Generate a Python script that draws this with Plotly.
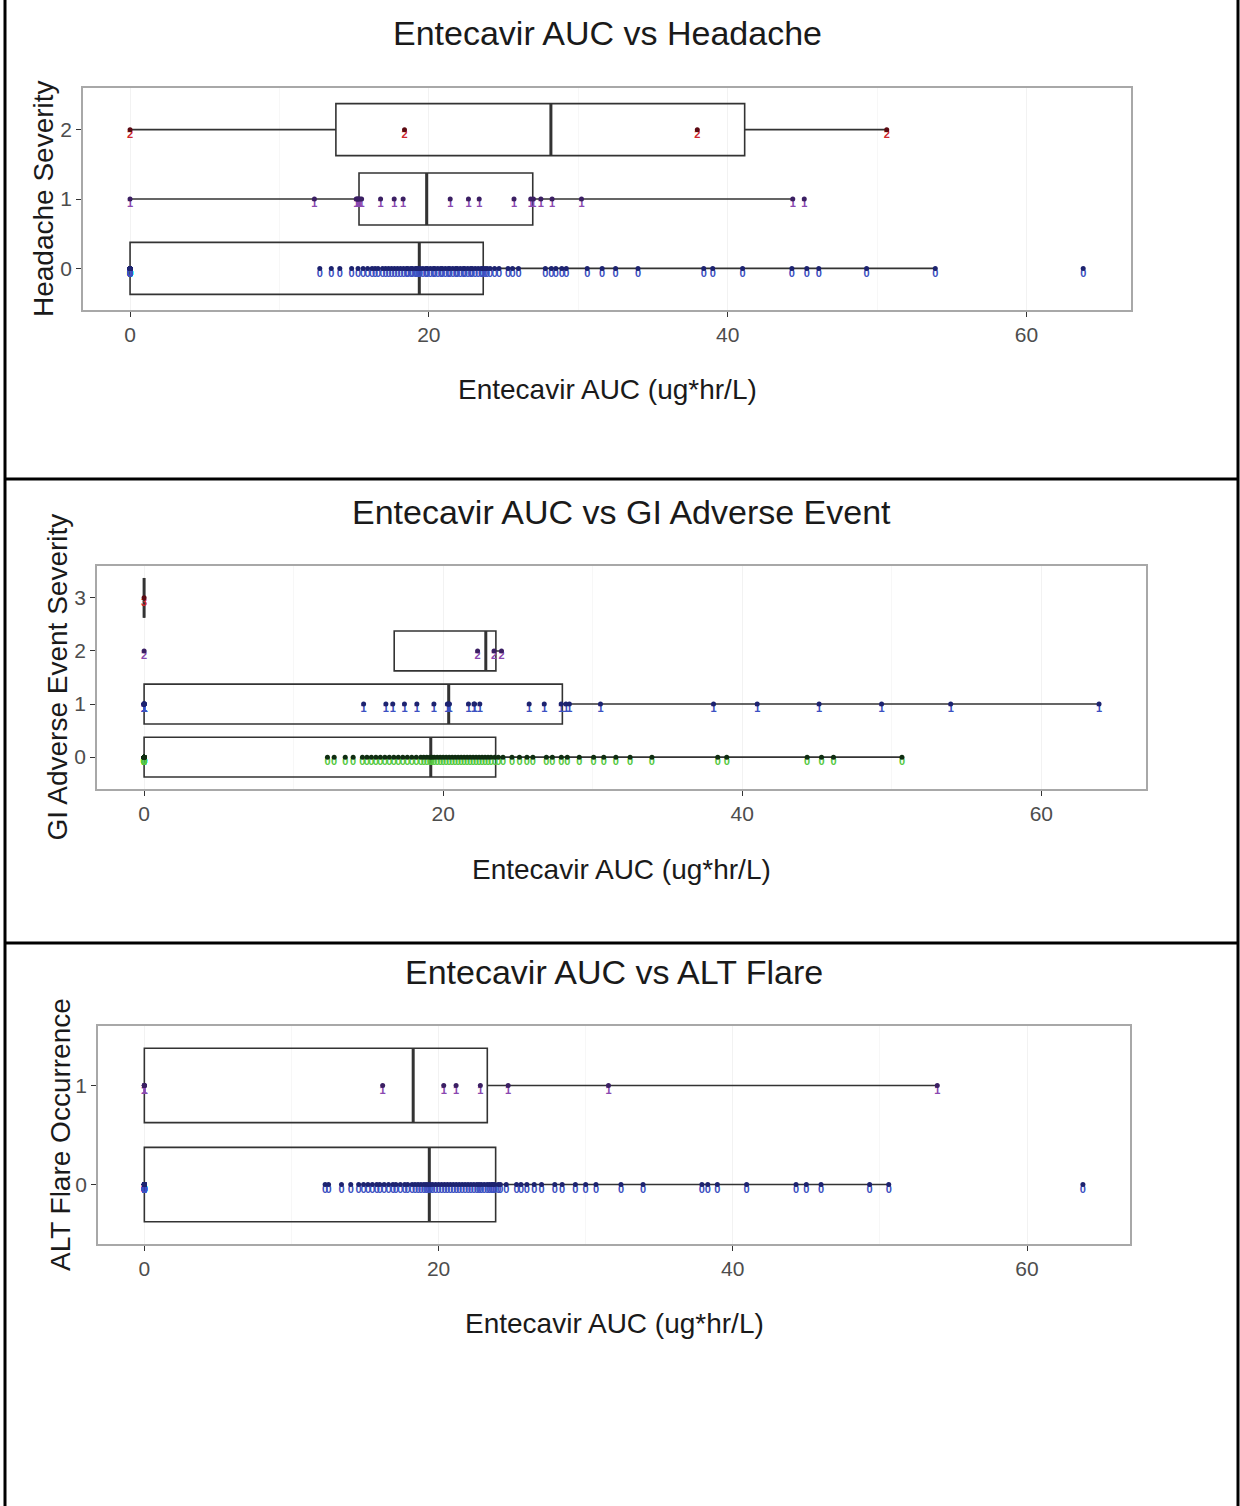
import numpy as np
import plotly.graph_objects as go

W, H = 1240, 1506
FONT = "Liberation Sans"

# ---------------- data: Entecavir AUC (ug*hr/L) by outcome level ----------------
# Headache severity
headache_0 = [0.0] * 27 + [
    12.7, 13.47, 14.04, 14.83, 15.26, 15.6, 15.9, 16.2, 16.4, 16.6, 16.9, 17.1, 17.3,
    17.5, 17.7, 17.9, 18.1, 18.3, 18.5, 18.6, 18.8, 18.9, 19.1, 19.2, 19.3,
    19.42, 19.6, 19.8, 19.9, 20.1, 20.3, 20.4, 20.6, 20.8, 20.9, 21.1, 21.3, 21.4,
    21.6, 21.8, 21.9, 22.1, 22.3, 22.4, 22.6, 22.8, 22.9, 23.1, 23.3, 23.5, 23.6,
    23.76, 23.9, 24.1, 24.4, 24.7, 25.3, 25.6, 26.0, 27.8, 28.2, 28.5, 28.9, 29.2,
    30.6, 31.6, 32.5, 34.0, 38.4, 39.0, 41.0, 44.3, 45.3, 46.1, 49.3, 53.9, 63.8]
headache_1 = [0.0, 12.34, 15.14, 15.2, 15.26, 15.3, 15.4, 15.5, 16.77, 17.68, 18.28,
              21.43, 22.65, 23.37, 25.7, 26.82, 27.0, 27.5, 28.25, 30.22, 44.36, 45.13]
headache_2 = [0.0, 18.37, 37.97, 50.65]

# GI adverse event severity
gi_0 = [0.0] * 23 + [
    12.26, 12.71, 13.45, 13.98, 14.6, 14.9, 15.2, 15.5, 15.8, 16.1, 16.4, 16.7, 17.0,
    17.3, 17.6, 17.9, 18.2, 18.5, 18.7, 18.9, 19.1,
    19.24, 19.4, 19.6, 19.8, 20.0, 20.2, 20.4, 20.6, 20.8, 21.0, 21.2, 21.4, 21.6,
    21.8, 22.0, 22.2, 22.4, 22.6, 22.8, 23.0, 23.2, 23.45,
    23.69, 24.0, 24.6, 25.1, 25.6, 26.0, 26.9, 27.3, 27.9, 28.3, 29.1, 30.06, 30.74,
    31.55, 32.5, 33.96, 38.36, 38.96, 44.34, 45.3, 46.1, 50.68]
gi_1 = [0.0] * 10 + [
    14.68, 16.17, 16.63, 17.41, 18.24, 19.38, 20.28, 20.36, 20.38, 20.42, 21.69,
    22.06, 22.10, 22.45, 25.75, 26.76, 27.89, 28.21, 28.44, 30.52, 38.08, 41.0,
    45.14, 49.32, 53.94, 63.86]
gi_2 = [0.0, 22.3, 23.4, 23.9]
gi_3 = [0.0]

# ALT flare occurrence
alt_0 = [0.0] * 26 + [
    12.29, 12.52, 13.4, 14.03, 14.57, 14.9, 15.2, 15.5, 15.8, 16.0, 16.3, 16.6, 16.9,
    17.1, 17.4, 17.7, 17.9, 18.2, 18.4, 18.6, 18.8, 19.0, 19.15, 19.3,
    19.44, 19.6, 19.8, 20.0, 20.2, 20.4, 20.6, 20.8, 21.0, 21.2, 21.4, 21.6, 21.8,
    22.0, 22.2, 22.4, 22.6, 22.75, 22.9, 23.1, 23.3, 23.45, 23.6, 23.7, 23.82,
    24.06, 24.2, 24.6, 25.3, 25.6, 26.0, 26.5, 27.0, 27.9, 28.4, 29.3, 30.0, 30.7,
    32.4, 33.9, 37.9, 38.3, 38.95, 40.94, 44.3, 45.0, 46.0, 49.3, 50.6, 63.8]
alt_1 = [0.0] * 5 + [16.2, 20.35, 21.19, 22.84, 24.73, 31.55, 53.9]

x_ticks = [0, 20, 40, 60]

# level colours: (label text colour, point colour)
BLUE = ("#3b50c2", "#1d2370")
PURPLE = ("#8a48b0", "#3b1f63")
RED = ("#d0262c", "#5c0a12")
GREEN = ("#55c942", "#0f2d10")

panels = [
    dict(title="Entecavir AUC vs Headache", ytitle="Headache Severity",
         groups=[(0, headache_0, BLUE), (1, headache_1, PURPLE), (2, headache_2, RED)],
         xdom=(83, 1131), ydom=(88, 310), yrange=[-0.6, 2.6],
         title_y=33, xtitle_y=389, ytitle_x=43),
    dict(title="Entecavir AUC vs GI Adverse Event", ytitle="GI Adverse Event Severity",
         groups=[(0, gi_0, GREEN), (1, gi_1, BLUE), (2, gi_2, PURPLE), (3, gi_3, RED)],
         xdom=(97, 1146), ydom=(566, 789), yrange=[-0.6, 3.6],
         title_y=512, xtitle_y=869, ytitle_x=57),
    dict(title="Entecavir AUC vs ALT Flare", ytitle="ALT Flare Occurrence",
         groups=[(0, alt_0, BLUE), (1, alt_1, PURPLE)],
         xdom=(98, 1130), ydom=(1026, 1244), yrange=[-0.6, 1.6],
         title_y=972, xtitle_y=1323, ytitle_x=60),
]

BOX_HALF = 0.375


def box_stats(vals):
    a = np.sort(np.asarray(vals, dtype=float))
    q1, med, q3 = np.percentile(a, [25, 50, 75])
    iqr = q3 - q1
    lo = a[a >= q1 - 1.5 * iqr].min()
    hi = a[a <= q3 + 1.5 * iqr].max()
    return q1, med, q3, lo, hi


def px(x):
    return x / W


def py(y):
    return 1 - y / H


fig = go.Figure()
annotations = []

for i, p in enumerate(panels, start=1):
    xa = "x" if i == 1 else f"x{i}"
    ya = "y" if i == 1 else f"y{i}"
    for level, vals, (txt_col, pt_col) in p["groups"]:
        q1, med, q3, lo, hi = box_stats(vals)
        fig.add_trace(go.Box(
            y=[level], q1=[q1], median=[med], q3=[q3],
            lowerfence=[lo], upperfence=[hi],
            orientation="h", width=2 * BOX_HALF, whiskerwidth=0,
            boxpoints=False, fillcolor="rgba(255,255,255,0)",
            line=dict(color="#333333", width=1.6),
            xaxis=xa, yaxis=ya, showlegend=False, hoverinfo="skip"))
        # heavier median bar
        fig.add_trace(go.Scatter(
            x=[med, med], y=[level - BOX_HALF, level + BOX_HALF], mode="lines",
            line=dict(color="#333333", width=3), xaxis=xa, yaxis=ya,
            showlegend=False, hoverinfo="skip"))
        # outcome-level label under each subject
        fig.add_trace(go.Scatter(
            x=vals, y=[level] * len(vals), mode="text",
            text=[str(level)] * len(vals), textposition="bottom center",
            textfont=dict(family=FONT, size=11, color=txt_col, weight="bold"),
            xaxis=xa, yaxis=ya, showlegend=False, hoverinfo="skip", cliponaxis=False))
        # individual subjects
        fig.add_trace(go.Scatter(
            x=vals, y=[level] * len(vals), mode="markers",
            marker=dict(size=5, color=pt_col),
            xaxis=xa, yaxis=ya, showlegend=False, hoverinfo="skip", cliponaxis=False))

    axis_common = dict(
        showline=True, linecolor="#a8a8a8", linewidth=1.5, mirror=True,
        ticks="outside", ticklen=5, tickwidth=1.3, tickcolor="#333333",
        tickfont=dict(family=FONT, size=21, color="#4d4d4d"), zeroline=False)
    fig.update_layout(**{
        ("xaxis" if i == 1 else f"xaxis{i}"): dict(
            domain=[px(p["xdom"][0]), px(p["xdom"][1])], range=[-3.15, 67.0],
            tickvals=x_ticks, anchor=ya, showgrid=True, gridcolor="#f2f2f2", gridwidth=1,
            minor=dict(tickvals=[10, 30, 50], showgrid=True, gridcolor="#f7f7f7", ticks=""),
            **axis_common),
        ("yaxis" if i == 1 else f"yaxis{i}"): dict(
            domain=[py(p["ydom"][1]), py(p["ydom"][0])], range=p["yrange"],
            tickvals=[g[0] for g in p["groups"]], anchor=xa, showgrid=False,
            **axis_common),
    })
    xc = px((p["xdom"][0] + p["xdom"][1]) / 2)
    yc = py((p["ydom"][0] + p["ydom"][1]) / 2)
    annotations += [
        dict(text=p["title"], x=xc, y=py(p["title_y"]), xref="paper", yref="paper",
             showarrow=False, xanchor="center", yanchor="middle",
             font=dict(family=FONT, size=34, color="#1a1a1a")),
        dict(text="Entecavir AUC (ug*hr/L)", x=xc, y=py(p["xtitle_y"]), xref="paper",
             yref="paper", showarrow=False, xanchor="center", yanchor="middle",
             font=dict(family=FONT, size=28, color="#1a1a1a")),
        dict(text=p["ytitle"], x=px(p["ytitle_x"]), y=yc, xref="paper", yref="paper",
             showarrow=False, xanchor="center", yanchor="middle", textangle=-90,
             font=dict(family=FONT, size=28, color="#1a1a1a")),
    ]

# page frame and panel dividers
frame = dict(color="black", width=3)
shapes = [
    dict(type="line", xref="paper", yref="paper", x0=px(5), x1=px(5), y0=0, y1=1, line=frame),
    dict(type="line", xref="paper", yref="paper", x0=px(1238), x1=px(1238), y0=0, y1=1, line=frame),
    dict(type="line", xref="paper", yref="paper", x0=px(5), x1=px(1238), y0=py(479), y1=py(479), line=frame),
    dict(type="line", xref="paper", yref="paper", x0=px(5), x1=px(1238), y0=py(943), y1=py(943), line=frame),
]

fig.update_layout(
    width=W, height=H, margin=dict(l=0, r=0, t=0, b=0),
    paper_bgcolor="white", plot_bgcolor="white",
    boxmode="overlay", showlegend=False,
    annotations=annotations, shapes=shapes,
    font=dict(family=FONT),
)

fig.write_html("out.html")
